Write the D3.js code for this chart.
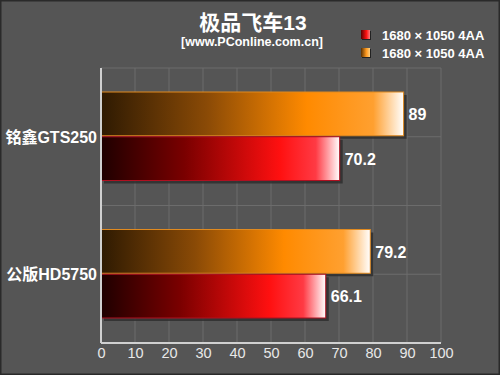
<html>
<head>
<meta charset="utf-8">
<script src="https://d3js.org/d3.v7.min.js"></script>
<style>
  body { margin: 0; background: #555555; }
  svg { display: block; font-family: "Liberation Sans", Arial, "Noto Sans CJK SC", sans-serif; }
</style>
</head>
<body>
<div id="chart"></div>
<script>
// data
const categories = ["铭鑫GTS250", "公版HD5750"];
const seriesNames = ["1680 × 1050 4AA", "1680 × 1050 4AA"];
const orangeValues = [89, 79.2];
const redValues = [70.2, 66.1];
const xTicks = [0, 10, 20, 30, 40, 50, 60, 70, 80, 90, 100];

const W = 500, H = 375;
const margin = {top: 68, right: 59, bottom: 32, left: 101};
const iw = W - margin.left - margin.right;
const ih = H - margin.top - margin.bottom;

const svg = d3.select("#chart").append("svg")
  .attr("width", W).attr("height", H);

svg.append("rect").attr("width", W).attr("height", H)
  .attr("fill", "#555555").attr("stroke", "#2a2a2a").attr("stroke-width", 3);

const defs = svg.append("defs");
function grad(id, stops) {
  const g = defs.append("linearGradient").attr("id", id)
    .attr("x1", "0%").attr("x2", "100%").attr("y1", "0%").attr("y2", "0%");
  stops.forEach(s => g.append("stop").attr("offset", s[0]).attr("stop-color", s[1]));
}
grad("gOrange", [["0%", "#2e1a02"], ["35%", "#8a4a06"], ["68%", "#ff8a00"], ["90%", "#ffa030"], ["100%", "#ffffff"]]);
grad("gRed", [["0%", "#1e0000"], ["35%", "#7a0000"], ["75%", "#ff1010"], ["90%", "#ff3a44"], ["100%", "#ffffff"]]);
grad("gLegOrange", [["0%", "#5a3000"], ["60%", "#ff9a20"], ["100%", "#ffd080"]]);
grad("gLegRed", [["0%", "#5a0000"], ["60%", "#ff1010"], ["100%", "#ff8080"]]);

const g = svg.append("g").attr("transform", `translate(${margin.left},${margin.top})`);

const x = d3.scaleLinear().domain([0, 100]).range([0, iw]);
const y = d3.scaleBand().domain(categories).range([0, ih]).paddingInner(0).paddingOuter(0);
const ySub = d3.scaleBand().domain(["orange", "red"]).range([24, y.bandwidth() - 24]).padding(0);

// grid
g.selectAll(".vgrid").data(xTicks.slice(1)).join("line")
  .attr("x1", d => x(d)).attr("x2", d => x(d))
  .attr("y1", 0).attr("y2", ih)
  .attr("stroke", "#6c6c6c").attr("stroke-width", 1);
const hLines = [];
categories.forEach(c => { hLines.push(y(c)); hLines.push(y(c) + y.bandwidth() / 2); });
g.selectAll(".hgrid").data(hLines).join("line")
  .attr("x1", 0).attr("x2", iw)
  .attr("y1", d => d).attr("y2", d => d)
  .attr("stroke", "#6c6c6c").attr("stroke-width", 1);

// bars
const rows = categories.map((c, i) => ({c, o: orangeValues[i], r: redValues[i]}));
const bars = [];
rows.forEach(d => {
  bars.push({c: d.c, k: "orange", v: d.o});
  bars.push({c: d.c, k: "red", v: d.r});
});

// shadows
g.selectAll(".shadow").data(bars).join("rect")
  .attr("x", 3).attr("y", d => y(d.c) + ySub(d.k) + 3)
  .attr("width", d => x(d.v) - x(0))
  .attr("height", ySub.bandwidth() - 1)
  .attr("fill", "#2c2c2c").attr("opacity", 0.8);

g.selectAll(".bar").data(bars).join("rect")
  .attr("x", x(0)).attr("y", d => y(d.c) + ySub(d.k))
  .attr("width", d => x(d.v) - x(0))
  .attr("height", ySub.bandwidth() - 1)
  .attr("fill", d => d.k === "orange" ? "url(#gOrange)" : "url(#gRed)")
  .attr("stroke", d => d.k === "orange" ? "#e08a20" : "#b01020")
  .attr("stroke-width", 1);

g.selectAll(".val").data(bars).join("text")
  .attr("x", d => x(d.v) + 5)
  .attr("y", d => y(d.c) + ySub(d.k) + ySub.bandwidth() / 2)
  .attr("dy", "0.36em")
  .attr("fill", "#ffffff").attr("font-size", 16).attr("font-weight", "bold")
  .text(d => d.v);

// axes
g.append("line").attr("x1", 0).attr("x2", 0).attr("y1", 0).attr("y2", ih)
  .attr("stroke", "#d0d0d0").attr("stroke-width", 2);
g.append("line").attr("x1", 0).attr("x2", iw).attr("y1", ih).attr("y2", ih)
  .attr("stroke", "#d0d0d0").attr("stroke-width", 2);

const xAxis = g.append("g").attr("transform", `translate(0,${ih})`)
  .call(d3.axisBottom(x).tickValues(xTicks).tickSize(0).tickPadding(5));
xAxis.select(".domain").remove();
xAxis.selectAll("text").attr("fill", "#e8e8e8").attr("font-size", 14.5);

g.selectAll(".cat").data(categories).join("text")
  .attr("x", -4).attr("y", d => y(d) + y.bandwidth() / 2)
  .attr("dy", "0.36em").attr("text-anchor", "end")
  .attr("fill", "#ffffff").attr("font-size", 16).attr("font-weight", "bold")
  .text(d => d);

// title
svg.append("text").attr("x", 253).attr("y", 30).attr("text-anchor", "middle")
  .attr("fill", "#ffffff").attr("font-size", 21).attr("font-weight", "bold")
  .text("极品飞车13");
svg.append("text").attr("x", 252).attr("y", 46).attr("text-anchor", "middle")
  .attr("fill", "#ffffff").attr("font-size", 12.5).attr("font-weight", "bold")
  .text("[www.PConline.com.cn]");

// legend
const legend = svg.append("g").attr("transform", "translate(361,30)");
const legFills = ["url(#gLegRed)", "url(#gLegOrange)"];
seriesNames.forEach((s, i) => {
  const row = legend.append("g").attr("transform", `translate(0,${i * 18})`);
  row.append("rect").attr("x", 1).attr("y", 1).attr("width", 9).attr("height", 9).attr("fill", "#222");
  row.append("rect").attr("width", 9).attr("height", 9).attr("fill", legFills[i]);
  row.append("text").attr("x", 21).attr("y", 5).attr("dy", "0.36em")
    .attr("fill", "#ffffff").attr("font-size", 13).attr("font-weight", "bold").text(s);
});
</script>
</body>
</html>
